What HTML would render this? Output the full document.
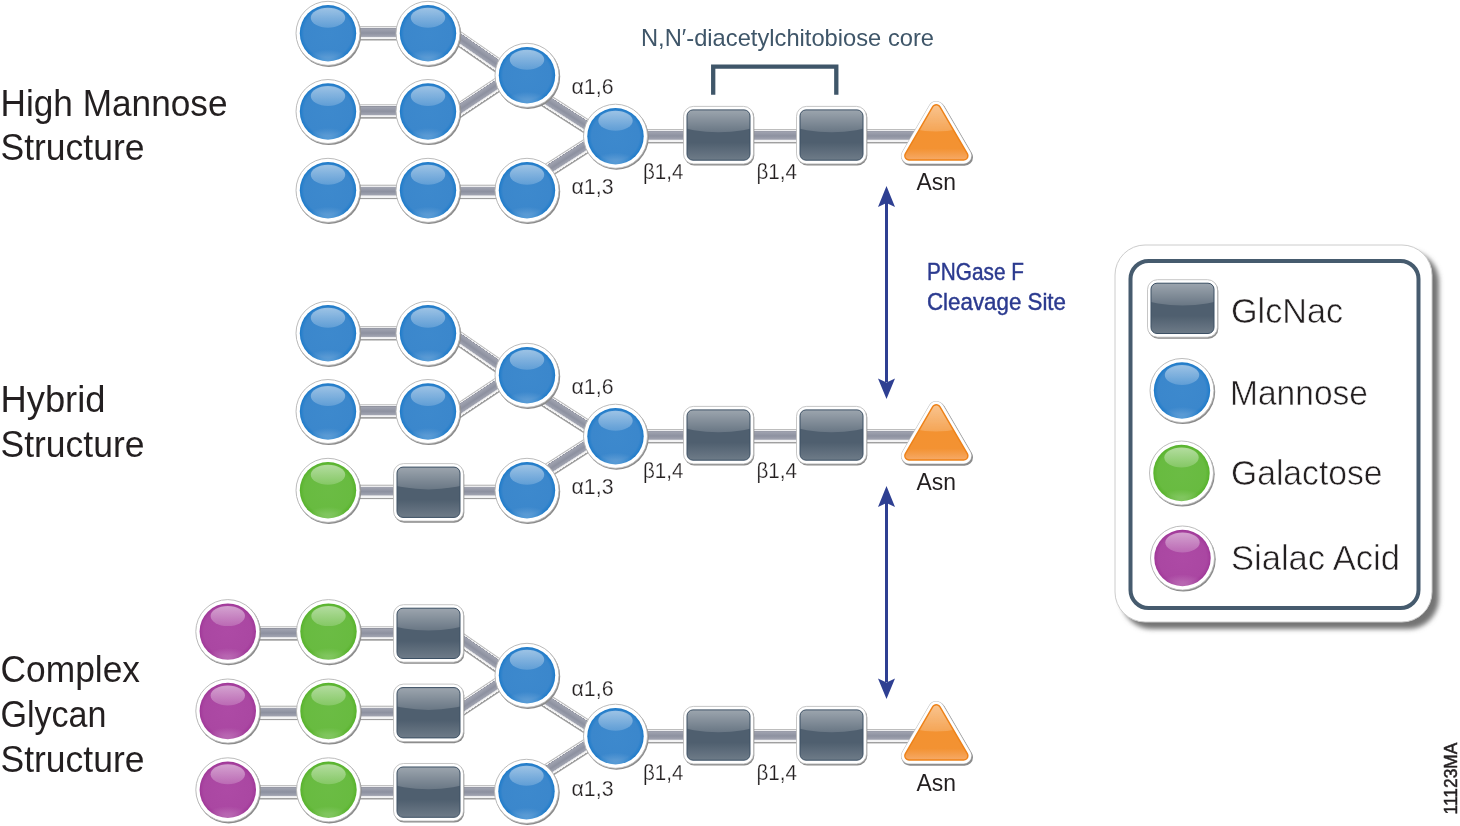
<!DOCTYPE html>
<html><head><meta charset="utf-8"><style>
html,body{margin:0;padding:0;background:#fff;width:1460px;height:826px;overflow:hidden}
svg{display:block;will-change:transform}
text{font-family:"Liberation Sans",sans-serif}
</style></head><body>
<svg width="1460" height="826" viewBox="0 0 1460 826">
<defs>
<filter id="fBlur" x="-10%" y="-10%" width="120%" height="120%"><feGaussianBlur stdDeviation="2.4"/></filter>
<linearGradient id="gBar" x1="0" y1="0" x2="0" y2="1">
<stop offset="0" stop-color="#b4b4b4"/><stop offset="0.06" stop-color="#c4c4c4"/>
<stop offset="0.07" stop-color="#ececee"/><stop offset="0.13" stop-color="#ececee"/>
<stop offset="0.14" stop-color="#8c8e9a"/><stop offset="0.19" stop-color="#a0a3b0"/>
<stop offset="0.48" stop-color="#8d91a0"/><stop offset="0.72" stop-color="#a0a3b0"/>
<stop offset="0.74" stop-color="#c9cad0"/><stop offset="0.8" stop-color="#f4f4f5"/><stop offset="0.89" stop-color="#f4f4f5"/>
<stop offset="0.9" stop-color="#a2a2a2"/><stop offset="1" stop-color="#9c9c9c"/>
</linearGradient>
<radialGradient id="gBlue" cx="0.5" cy="0.5" r="0.5">
<stop offset="0" stop-color="#3d89cd"/><stop offset="0.85" stop-color="#3b87cc"/><stop offset="0.94" stop-color="#2a80cb"/><stop offset="1" stop-color="#1a79c8"/>
</radialGradient>
<radialGradient id="gGreen" cx="0.5" cy="0.5" r="0.5">
<stop offset="0" stop-color="#6bbc44"/><stop offset="0.85" stop-color="#68bb40"/><stop offset="0.94" stop-color="#5fb634"/><stop offset="1" stop-color="#55b22b"/>
</radialGradient>
<radialGradient id="gPurple" cx="0.5" cy="0.5" r="0.5">
<stop offset="0" stop-color="#ad4aa5"/><stop offset="0.85" stop-color="#aa47a2"/><stop offset="0.94" stop-color="#a53f9d"/><stop offset="1" stop-color="#9e3697"/>
</radialGradient>
<linearGradient id="gHi" x1="0" y1="0" x2="0" y2="1">
<stop offset="0" stop-color="#fff" stop-opacity="0.5"/><stop offset="1" stop-color="#fff" stop-opacity="0.18"/>
</linearGradient>
<radialGradient id="gGlow" cx="0.5" cy="0.9" r="0.55">
<stop offset="0" stop-color="#fff" stop-opacity="0.28"/><stop offset="1" stop-color="#fff" stop-opacity="0"/>
</radialGradient>
<linearGradient id="gSq" x1="0" y1="0" x2="0" y2="1">
<stop offset="0" stop-color="#4f5f6f"/><stop offset="0.65" stop-color="#4f5f6f"/><stop offset="1" stop-color="#6e7b88"/>
</linearGradient>
<linearGradient id="gSqHi" x1="0" y1="0" x2="0" y2="1">
<stop offset="0.5" stop-color="#fff" stop-opacity="0.5"/><stop offset="1" stop-color="#fff" stop-opacity="0.15"/>
</linearGradient>
<clipPath id="cpSq"><rect x="-31.5" y="-25.3" width="63" height="50.3" rx="6"/></clipPath>
<linearGradient id="gTri" gradientUnits="userSpaceOnUse" x1="0" y1="104" x2="0" y2="161">
<stop offset="0" stop-color="#f39230"/><stop offset="0.78" stop-color="#f39232"/><stop offset="1" stop-color="#f6ac6c"/>
</linearGradient>
<linearGradient id="gTriHi" x1="0" y1="0" x2="0" y2="1">
<stop offset="0.3" stop-color="#fff" stop-opacity="0.72"/><stop offset="1" stop-color="#fff" stop-opacity="0.18"/>
</linearGradient>
<mask id="mTri" maskUnits="userSpaceOnUse" x="880" y="90" width="110" height="90"><path d="M936.3,109.1 L909.1,155.8 L963.6,155.8 Z" fill="#fff" stroke="#fff" stroke-width="7" stroke-linejoin="round"/></mask>
<g id="c_b">
<circle cx="0.9" cy="1.3" r="32.3" fill="#8a8a8a"/>
<circle cx="0" cy="0" r="32" fill="#fff" stroke="#b4b4b4" stroke-width="0.9"/>
<circle cx="0" cy="0" r="28.2" fill="url(#gBlue)"/>
<ellipse cx="0" cy="20" rx="22" ry="12" fill="url(#gGlow)"/>
<ellipse cx="0" cy="-15.5" rx="17.2" ry="10" fill="url(#gHi)"/>
</g>
<g id="c_g">
<circle cx="0.9" cy="1.3" r="32.3" fill="#8a8a8a"/>
<circle cx="0" cy="0" r="32" fill="#fff" stroke="#b4b4b4" stroke-width="0.9"/>
<circle cx="0" cy="0" r="28.2" fill="url(#gGreen)"/>
<ellipse cx="0" cy="20" rx="22" ry="12" fill="url(#gGlow)"/>
<ellipse cx="0" cy="-15.5" rx="17.2" ry="10" fill="url(#gHi)"/>
</g>
<g id="c_p">
<circle cx="0.9" cy="1.3" r="32.3" fill="#8a8a8a"/>
<circle cx="0" cy="0" r="32" fill="#fff" stroke="#b4b4b4" stroke-width="0.9"/>
<circle cx="0" cy="0" r="28.2" fill="url(#gPurple)"/>
<ellipse cx="0" cy="20" rx="22" ry="12" fill="url(#gGlow)"/>
<ellipse cx="0" cy="-15.5" rx="17.2" ry="10" fill="url(#gHi)"/>
</g>
<g id="sq">
<rect x="-34.2" y="-27.7" width="70" height="58" rx="10" fill="#8a8a8a"/>
<rect x="-35" y="-28.8" width="70" height="57.5" rx="10" fill="#fff" stroke="#b8b8b8" stroke-width="0.8"/>
<rect x="-31.5" y="-25.3" width="63" height="50.3" rx="6" fill="url(#gSq)"/>
<ellipse cx="0" cy="-30" rx="64" ry="27" fill="url(#gSqHi)" clip-path="url(#cpSq)"/>
<rect x="-31.5" y="-25.3" width="63" height="50.3" rx="6" fill="none" stroke="#3c5064" stroke-width="1"/>
</g>
<g id="tri">
<path d="M936.3,109.1 L909.1,155.8 L963.6,155.8 Z" fill="#8c8c8c" stroke="#8c8c8c" stroke-width="17" stroke-linejoin="round" transform="translate(0.9,1.4)"/>
<path d="M936.3,109.1 L909.1,155.8 L963.6,155.8 Z" fill="#bdbdbd" stroke="#bdbdbd" stroke-width="16.4" stroke-linejoin="round"/>
<path d="M936.3,109.1 L909.1,155.8 L963.6,155.8 Z" fill="#fff" stroke="#fff" stroke-width="15.4" stroke-linejoin="round"/>
<path d="M936.3,109.1 L909.1,155.8 L963.6,155.8 Z" fill="#ee8218" stroke="#ee8218" stroke-width="10" stroke-linejoin="round"/>
<path d="M936.3,109.1 L909.1,155.8 L963.6,155.8 Z" fill="url(#gTri)" stroke="url(#gTri)" stroke-width="7" stroke-linejoin="round"/>
<ellipse cx="936" cy="95" rx="62" ry="36.5" fill="url(#gTriHi)" mask="url(#mTri)"/>
</g>
</defs>
<rect width="1460" height="826" fill="#fff"/>
<rect transform="translate(430.00,18.56) rotate(34.674)" x="0" y="-7.2" width="104.57" height="14.4" fill="url(#gBar)"/>
<rect transform="translate(430.00,129.68) rotate(-33.557)" x="0" y="-7.2" width="103.20" height="14.4" fill="url(#gBar)"/>
<rect transform="translate(527.00,88.40) rotate(32.654)" x="0" y="-7.2" width="93.36" height="14.4" fill="url(#gBar)"/>
<rect transform="translate(527.00,184.00) rotate(-32.648)" x="0" y="-7.2" width="93.35" height="14.4" fill="url(#gBar)"/>
<rect transform="translate(328.00,33.30) rotate(0.000)" x="0" y="-7.2" width="100.00" height="14.4" fill="url(#gBar)"/>
<rect transform="translate(328.00,111.50) rotate(0.000)" x="0" y="-7.2" width="100.00" height="14.4" fill="url(#gBar)"/>
<rect transform="translate(328.00,191.90) rotate(0.000)" x="0" y="-7.2" width="199.00" height="14.4" fill="url(#gBar)"/>
<rect transform="translate(615.00,136.20) rotate(0.000)" x="0" y="-7.2" width="321.00" height="14.4" fill="url(#gBar)"/>
<use href="#c_b" x="328" y="33.3"/>
<use href="#c_b" x="428" y="33.3"/>
<use href="#c_b" x="328" y="111.5"/>
<use href="#c_b" x="428" y="111.5"/>
<use href="#c_b" x="328" y="190.3"/>
<use href="#c_b" x="428" y="190.3"/>
<use href="#c_b" x="527" y="190.3"/>
<use href="#c_b" x="527" y="75.3"/>
<use href="#c_b" x="615.5" y="136.2"/>
<use href="#sq" x="718.5" y="135.2"/>
<use href="#sq" x="831.5" y="135.2"/>
<use href="#tri" x="0" y="0"/>
<text x="571.5" y="94" font-size="22" fill="#231f20" textLength="42" lengthAdjust="spacingAndGlyphs" stroke="#fff" stroke-width="0.25">α1,6</text>
<text x="571.5" y="193.8" font-size="22" fill="#231f20" textLength="42" lengthAdjust="spacingAndGlyphs" stroke="#fff" stroke-width="0.25">α1,3</text>
<text x="643" y="178.9" font-size="22" fill="#231f20" textLength="40.5" lengthAdjust="spacingAndGlyphs" stroke="#fff" stroke-width="0.25">β1,4</text>
<text x="756.5" y="178.9" font-size="22" fill="#231f20" textLength="40.5" lengthAdjust="spacingAndGlyphs" stroke="#fff" stroke-width="0.25">β1,4</text>
<text x="916.5" y="189.8" font-size="24.2" fill="#231f20" textLength="39.5" lengthAdjust="spacingAndGlyphs" >Asn</text>
<rect transform="translate(430.00,318.56) rotate(34.674)" x="0" y="-7.2" width="104.57" height="14.4" fill="url(#gBar)"/>
<rect transform="translate(430.00,429.68) rotate(-33.557)" x="0" y="-7.2" width="103.20" height="14.4" fill="url(#gBar)"/>
<rect transform="translate(527.00,388.40) rotate(32.654)" x="0" y="-7.2" width="93.36" height="14.4" fill="url(#gBar)"/>
<rect transform="translate(527.00,484.00) rotate(-32.648)" x="0" y="-7.2" width="93.35" height="14.4" fill="url(#gBar)"/>
<rect transform="translate(328.00,333.30) rotate(0.000)" x="0" y="-7.2" width="100.00" height="14.4" fill="url(#gBar)"/>
<rect transform="translate(328.00,411.50) rotate(0.000)" x="0" y="-7.2" width="100.00" height="14.4" fill="url(#gBar)"/>
<rect transform="translate(328.00,491.90) rotate(0.000)" x="0" y="-7.2" width="199.00" height="14.4" fill="url(#gBar)"/>
<rect transform="translate(615.00,436.20) rotate(0.000)" x="0" y="-7.2" width="321.00" height="14.4" fill="url(#gBar)"/>
<use href="#c_b" x="328" y="333.3"/>
<use href="#c_b" x="428" y="333.3"/>
<use href="#c_b" x="328" y="411.5"/>
<use href="#c_b" x="428" y="411.5"/>
<use href="#c_g" x="328" y="490.3"/>
<use href="#sq" x="428.5" y="492.40000000000003"/>
<use href="#c_b" x="527" y="490.3"/>
<use href="#c_b" x="527" y="375.3"/>
<use href="#c_b" x="615.5" y="436.2"/>
<use href="#sq" x="718.5" y="435.2"/>
<use href="#sq" x="831.5" y="435.2"/>
<use href="#tri" x="0" y="300"/>
<text x="571.5" y="394" font-size="22" fill="#231f20" textLength="42" lengthAdjust="spacingAndGlyphs" stroke="#fff" stroke-width="0.25">α1,6</text>
<text x="571.5" y="493.8" font-size="22" fill="#231f20" textLength="42" lengthAdjust="spacingAndGlyphs" stroke="#fff" stroke-width="0.25">α1,3</text>
<text x="643" y="477.9" font-size="22" fill="#231f20" textLength="40.5" lengthAdjust="spacingAndGlyphs" stroke="#fff" stroke-width="0.25">β1,4</text>
<text x="756.5" y="477.9" font-size="22" fill="#231f20" textLength="40.5" lengthAdjust="spacingAndGlyphs" stroke="#fff" stroke-width="0.25">β1,4</text>
<text x="916.5" y="489.8" font-size="24.2" fill="#231f20" textLength="39.5" lengthAdjust="spacingAndGlyphs" >Asn</text>
<rect transform="translate(440.00,625.44) rotate(34.693)" x="0" y="-7.2" width="92.43" height="14.4" fill="url(#gBar)"/>
<rect transform="translate(440.00,723.01) rotate(-33.538)" x="0" y="-7.2" width="91.18" height="14.4" fill="url(#gBar)"/>
<rect transform="translate(527.00,688.40) rotate(32.654)" x="0" y="-7.2" width="93.36" height="14.4" fill="url(#gBar)"/>
<rect transform="translate(527.00,784.00) rotate(-32.648)" x="0" y="-7.2" width="93.35" height="14.4" fill="url(#gBar)"/>
<rect transform="translate(227.00,633.50) rotate(0.000)" x="0" y="-7.2" width="201.00" height="14.4" fill="url(#gBar)"/>
<rect transform="translate(227.00,712.90) rotate(0.000)" x="0" y="-7.2" width="201.00" height="14.4" fill="url(#gBar)"/>
<rect transform="translate(227.00,792.30) rotate(0.000)" x="0" y="-7.2" width="201.00" height="14.4" fill="url(#gBar)"/>
<rect transform="translate(428.00,792.30) rotate(0.000)" x="0" y="-7.2" width="99.00" height="14.4" fill="url(#gBar)"/>
<rect transform="translate(615.00,736.20) rotate(0.000)" x="0" y="-7.2" width="321.00" height="14.4" fill="url(#gBar)"/>
<use href="#c_p" x="227.8" y="631.6"/>
<use href="#c_g" x="328.5" y="631.6"/>
<use href="#sq" x="428.5" y="633.5"/>
<use href="#c_p" x="227.8" y="711.0"/>
<use href="#c_g" x="328.5" y="711.0"/>
<use href="#sq" x="428.5" y="712.9"/>
<use href="#c_p" x="227.8" y="789.8"/>
<use href="#c_g" x="328.5" y="789.8"/>
<use href="#sq" x="428.5" y="792.3"/>
<use href="#c_b" x="526.5" y="791.3"/>
<use href="#c_b" x="527" y="675.3"/>
<use href="#c_b" x="615.5" y="736.2"/>
<use href="#sq" x="718.5" y="735.2"/>
<use href="#sq" x="831.5" y="735.2"/>
<use href="#tri" x="0" y="600"/>
<text x="571.5" y="696.3" font-size="22" fill="#231f20" textLength="42" lengthAdjust="spacingAndGlyphs" stroke="#fff" stroke-width="0.25">α1,6</text>
<text x="571.5" y="796.0999999999999" font-size="22" fill="#231f20" textLength="42" lengthAdjust="spacingAndGlyphs" stroke="#fff" stroke-width="0.25">α1,3</text>
<text x="643" y="780.1" font-size="22" fill="#231f20" textLength="40.5" lengthAdjust="spacingAndGlyphs" stroke="#fff" stroke-width="0.25">β1,4</text>
<text x="756.5" y="780.1" font-size="22" fill="#231f20" textLength="40.5" lengthAdjust="spacingAndGlyphs" stroke="#fff" stroke-width="0.25">β1,4</text>
<text x="916.5" y="790.8" font-size="24.2" fill="#231f20" textLength="39.5" lengthAdjust="spacingAndGlyphs" >Asn</text>
<g fill="#231f20">
<text x="0.5" y="115.8" font-size="37" fill="#231f20" textLength="227" lengthAdjust="spacingAndGlyphs" >High Mannose</text>
<text x="0.5" y="160" font-size="37" fill="#231f20" textLength="144" lengthAdjust="spacingAndGlyphs" >Structure</text>
<text x="0.5" y="412" font-size="37" fill="#231f20" textLength="105" lengthAdjust="spacingAndGlyphs" >Hybrid</text>
<text x="0.5" y="456.6" font-size="37" fill="#231f20" textLength="144" lengthAdjust="spacingAndGlyphs" >Structure</text>
<text x="0.5" y="681.8" font-size="37" fill="#231f20" textLength="139.5" lengthAdjust="spacingAndGlyphs" >Complex</text>
<text x="0.5" y="726.8" font-size="37" fill="#231f20" textLength="106" lengthAdjust="spacingAndGlyphs" >Glycan</text>
<text x="0.5" y="771.7" font-size="37" fill="#231f20" textLength="144" lengthAdjust="spacingAndGlyphs" >Structure</text>
</g>
<text x="641" y="45.8" font-size="24" fill="#3f5669" textLength="293" lengthAdjust="spacingAndGlyphs" >N,N′-diacetylchitobiose core</text>
<path d="M713.2,94.8 V66.55 H836.3 V94.8" fill="none" stroke="#3f5669" stroke-width="4.3"/>
<text x="927" y="280" font-size="24.5" fill="#2b3a8f" textLength="97" lengthAdjust="spacingAndGlyphs" stroke="#2b3a8f" stroke-width="0.45">PNGase F</text>
<text x="927" y="310" font-size="24.5" fill="#2b3a8f" textLength="139" lengthAdjust="spacingAndGlyphs" stroke="#2b3a8f" stroke-width="0.45">Cleavage Site</text>
<g fill="#2e3f92" stroke="none">
<rect x="885" y="200" width="3" height="182"/>
<path d="M886.5,186 L878,207 L886.5,203 L895,207 Z"/>
<path d="M886.5,399 L878,378.5 L886.5,382.5 L895,378.5 Z"/>
<rect x="885" y="500" width="3" height="182"/>
<path d="M886.5,486 L878,507 L886.5,503 L895,507 Z"/>
<path d="M886.5,699 L878,678.5 L886.5,682.5 L895,678.5 Z"/>
</g>
<!-- legend -->
<rect x="1121" y="251" width="318" height="378" rx="31" fill="#737373" filter="url(#fBlur)"/>
<rect x="1115" y="245" width="317" height="377" rx="30" fill="#fff" stroke="#cccccc" stroke-width="1"/>
<rect x="1130.5" y="261" width="288" height="347" rx="18" fill="none" stroke="#465b6e" stroke-width="4"/>
<use href="#sq" x="1182.5" y="308.5"/>
<use href="#c_b" x="1182" y="390.5"/>
<use href="#c_g" x="1181.5" y="473"/>
<use href="#c_p" x="1182.5" y="558"/>
<text x="1231" y="323" font-size="35" fill="#231f20" textLength="112" lengthAdjust="spacingAndGlyphs" stroke="#fff" stroke-width="0.55">GlcNac</text>
<text x="1230" y="405" font-size="35" fill="#231f20" textLength="138" lengthAdjust="spacingAndGlyphs" stroke="#fff" stroke-width="0.55">Mannose</text>
<text x="1231" y="485" font-size="35" fill="#231f20" textLength="151.5" lengthAdjust="spacingAndGlyphs" stroke="#fff" stroke-width="0.55">Galactose</text>
<text x="1231" y="570" font-size="35" fill="#231f20" textLength="169" lengthAdjust="spacingAndGlyphs" stroke="#fff" stroke-width="0.55">Sialac Acid</text>
<text transform="translate(1456.5,814.5) rotate(-90)" font-size="18" fill="#231f20" stroke="#231f20" stroke-width="0.5" textLength="72" lengthAdjust="spacingAndGlyphs">11123MA</text>
</svg>
</body></html>
